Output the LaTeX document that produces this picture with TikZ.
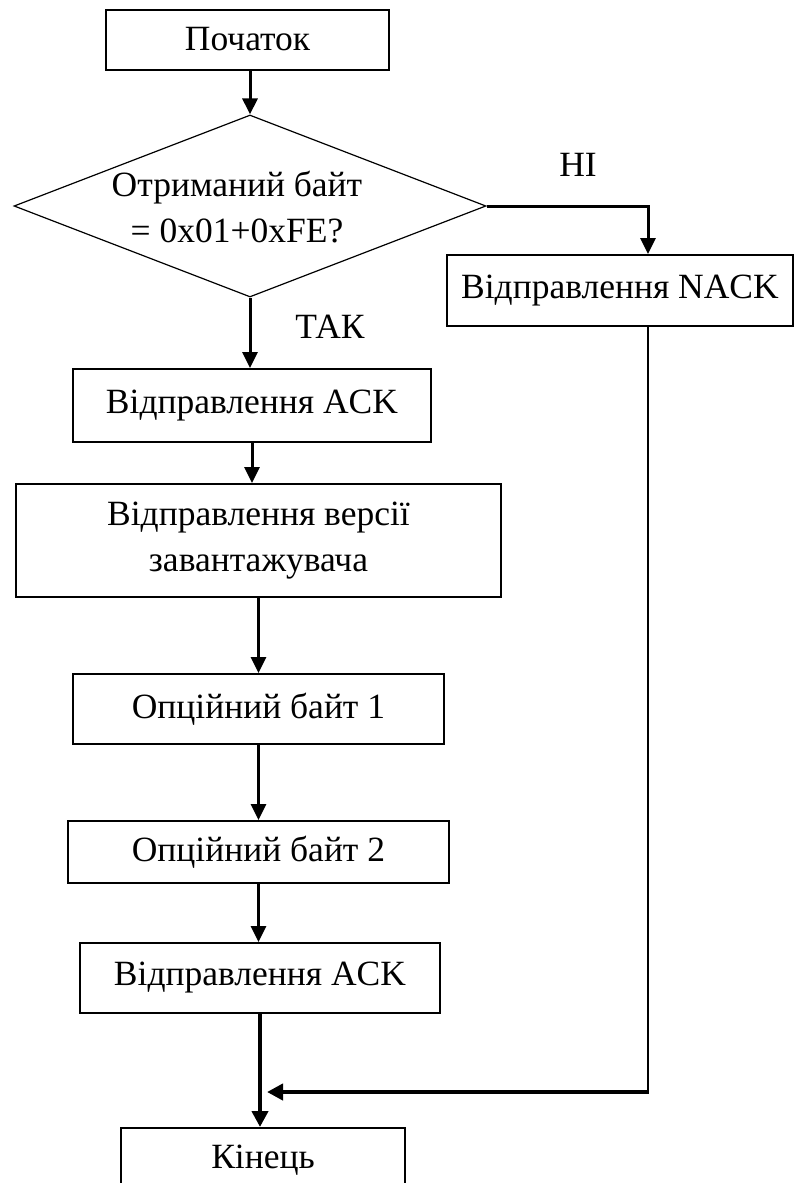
\documentclass[tikz,border=0pt]{standalone}
\usepackage{fontspec}
\setmainfont{Liberation Serif}
\usetikzlibrary{arrows.meta,shapes.geometric}
\begin{document}
\begin{tikzpicture}[x=1pt,y=-1pt,
  box/.style={draw,line width=2pt,inner sep=0pt,font=\fontsize{35.5}{46}\selectfont,align=center},
  lbl/.style={font=\fontsize{35.5}{46}\selectfont,inner sep=0pt,align=center},
  arr/.style={line width=3pt,-{Triangle[length=16pt,width=15pt]}},
  thk/.style={line width=4.5pt,-{Triangle[length=16pt,width=16pt]}},
  thin/.style={line width=2pt}
  ]
\useasboundingbox (0,0) rectangle (794,1183);
\clip (0,0) rectangle (794,1183);
\node[box,minimum width=283pt,minimum height=60pt] (start) at (247.5,39.5) {Початок};
\node[draw,line width=1.2pt,shape=diamond,minimum width=472pt,minimum height=182pt,inner sep=0pt] (dec) at (250,206) {};
\node[lbl] (dtext) at (237,207) {Отриманий байт\\= 0x01+0xFE?};
\node[box,minimum width=346pt,minimum height=71pt] (nack) at (620,290.5) {Відправлення NACK};
\node[box,minimum width=358pt,minimum height=73pt] (ack1) at (252,405.5) {Відправлення ACK};
\node[box,minimum width=485pt,minimum height=113pt] (ver) at (258.5,540.5) {Відправлення версії\\завантажувача};
\node[box,minimum width=371pt,minimum height=70pt] (opt1) at (258.5,709) {Опційний байт 1};
\node[box,minimum width=381pt,minimum height=62pt] (opt2) at (258.5,852) {Опційний байт 2};
\node[box,minimum width=360pt,minimum height=70pt] (ack2) at (260,978) {Відправлення ACK};
\node[box,minimum width=284pt,minimum height=64pt] (end) at (263,1160) {Кінець};
\node[lbl] (no) at (578,165) {НІ};
\node[lbl] (yes) at (330,327) {ТАК};
\coordinate (nx) at (648,206);
\coordinate (jn) at (267,1092);
\draw[arr] (dec.north |- start.south) -- (dec.north);
\draw[arr] (dec.east) -| (nx |- nack.north);
\draw[arr] (dec.south) -- (dec.south |- ack1.north);
\draw[arr] (ack1.south) -- (ack1.south |- ver.north);
\draw[arr] (ver.south) -- (ver.south |- opt1.north);
\draw[arr] (opt1.south) -- (opt1.south |- opt2.north);
\draw[arr] (opt2.south) -- (opt2.south |- ack2.north);
\draw[thk] (ack2.south) -- (ack2.south |- end.north);
\draw[thin] (nx |- nack.south) -- ([yshift=-2pt]nx |- jn);
\draw[thk] (nx |- jn) -- (jn);
\end{tikzpicture}
\end{document}
